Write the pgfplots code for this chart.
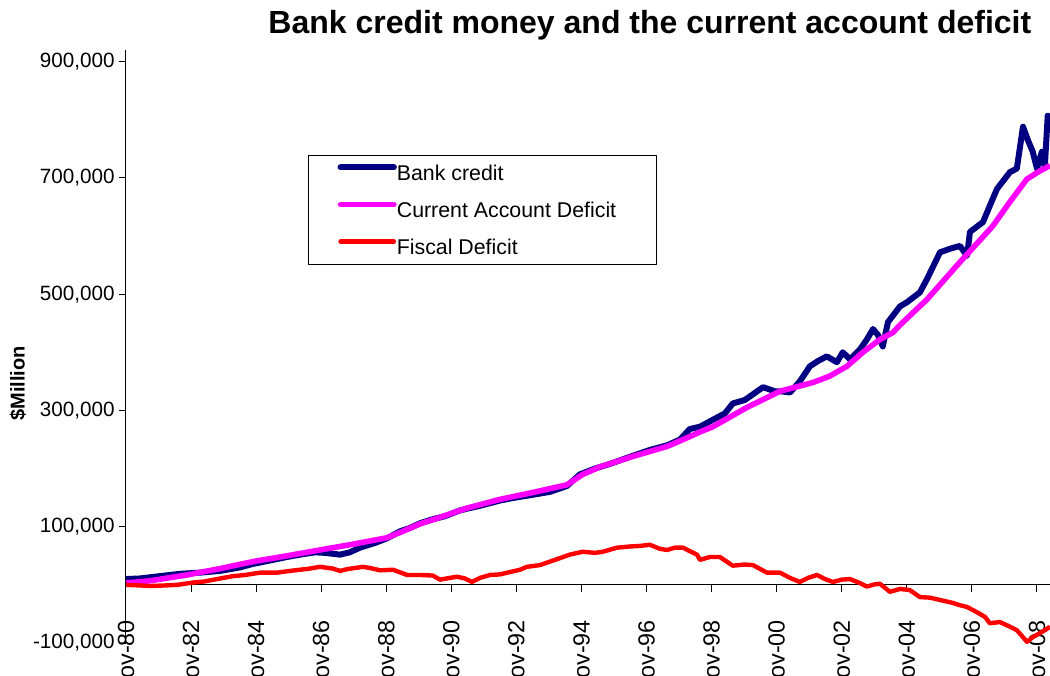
\documentclass[border=0pt]{standalone}
\usepackage{fontspec}
\setmainfont{Liberation Sans}
\usepackage{pgfplots}
\usepackage{pgfplotstable}
\pgfplotsset{compat=1.18}
\definecolor{bcblue}{RGB}{0,0,128}
\definecolor{cadpink}{RGB}{255,0,255}
\definecolor{fdred}{RGB}{255,0,0}

\pgfplotstableread{
t v
0 10000
0.43 11000
1.04 15000
1.66 19000
2.27 21000
2.89 24000
3.50 30000
3.90 36000
4.43 42000
4.95 48000
5.35 52000
5.81 56000
6.12 55000
6.58 52000
6.88 56000
7.19 64000
7.65 72000
8.02 80000
8.42 92000
8.73 98000
9.04 106000
9.43 113000
9.80 118000
10.26 128000
10.48 131000
10.88 136000
11.49 145000
11.95 150000
12.51 155000
13.03 160000
13.55 170000
13.95 190000
14.41 200000
14.87 208000
15.58 222000
16.10 232000
16.63 240000
17.03 250000
17.33 268000
17.64 272000
18.04 284000
18.41 295000
18.65 312000
19.02 318000
19.58 340000
19.94 333000
20.10 333000
20.41 331000
20.71 350000
21.02 376000
21.27 385000
21.54 393000
21.85 383000
22.03 400000
22.25 388000
22.56 405000
22.77 422000
22.96 440000
23.11 430000
23.26 410000
23.42 452000
23.79 479000
24.00 486000
24.40 503000
24.62 526000
25.02 572000
25.32 578000
25.63 583000
25.85 566000
25.94 607000
26.34 624000
26.55 652000
26.77 681000
27.17 710000
27.38 716000
27.57 788000
27.72 765000
27.87 745000
28.00 716000
28.15 745000
28.24 719000
28.33 807000
28.40 800000
}\bankcredit

\pgfplotstableread{
t v
0 3000
0.74 7000
1.87 17000
2.89 28000
3.90 40000
4.95 50000
5.96 60000
6.98 70000
8.02 81000
8.42 90000
9.04 105000
9.43 112000
10.48 132000
11.49 147000
12.51 159000
13.55 172000
14.04 190000
14.57 203000
15.58 221000
16.63 238000
17.33 255000
17.64 263000
18.04 272000
19.08 305000
20.10 333000
21.11 348000
21.63 359000
22.16 376000
22.65 400000
23.17 422000
23.57 434000
23.79 447000
24.62 491000
25.63 555000
26.64 617000
27.17 659000
27.69 698000
28.09 712000
28.40 721000
}\cad

\pgfplotstableread{
t v
0 0
0.43 -1000
0.74 -2000
1.20 -1000
1.57 0
2.06 4000
2.43 6000
2.80 10000
3.29 15000
3.66 17000
4.12 21000
4.64 21000
5.04 24000
5.35 26000
5.65 28000
5.96 31000
6.36 28000
6.58 24000
6.79 27000
7.28 31000
7.50 29000
7.81 25000
8.21 26000
8.64 17000
9.04 17000
9.43 16000
9.65 9000
9.96 12000
10.17 14000
10.42 11000
10.63 5000
10.88 12000
11.19 17000
11.49 18000
11.80 22000
12.11 26000
12.32 31000
12.72 34000
13.03 40000
13.34 46000
13.64 52000
14.04 57000
14.41 55000
14.66 57000
15.09 64000
15.49 66000
15.80 67000
16.10 69000
16.41 62000
16.63 60000
16.87 64000
17.12 64000
17.33 58000
17.55 52000
17.64 43000
17.95 48000
18.25 48000
18.65 33000
19.02 35000
19.27 34000
19.70 21000
20.10 21000
20.41 12000
20.71 5000
20.96 12000
21.24 17000
21.48 10000
21.73 5000
22.00 9000
22.25 10000
22.56 3000
22.77 -3000
23.02 1000
23.17 2000
23.48 -12000
23.79 -7000
24.09 -9000
24.40 -21000
24.71 -22000
25.02 -26000
25.41 -31000
25.63 -35000
25.85 -38000
26.15 -47000
26.40 -55000
26.55 -66000
26.86 -64000
27.17 -72000
27.38 -78000
27.54 -88000
27.69 -98000
27.87 -90000
28.09 -83000
28.24 -78000
28.40 -72000
}\fiscal

\begin{document}
\begin{tikzpicture}
\begin{axis}[
  name=ax, at={(0,0)}, anchor=south west,
  scale only axis, width=693pt, height=444.75pt,
  xmin=0, xmax=28.4, ymin=-100000, ymax=920000,
  axis y line*=left, axis x line*=middle,
  hide obscured x ticks=false, hide obscured y ticks=false,
  xtick={0,2,...,28},
  xticklabels={Nov-80,Nov-82,Nov-84,Nov-86,Nov-88,Nov-90,Nov-92,Nov-94,Nov-96,Nov-98,Nov-00,Nov-02,Nov-04,Nov-06,Nov-08},
  ytick={-100000,100000,300000,500000,700000,900000},
  yticklabels={{-100,000},{100,000},{300,000},{500,000},{700,000},{900,000}},
  scaled y ticks=false, scaled x ticks=false,
  tick align=outside, major tick length=5pt,
  tick style={black, line width=0.75pt},
  axis line style={black, line width=0.75pt},
  xticklabel style={rotate=90, anchor=east, font=\fontsize{17.5}{20}\selectfont, color=black},
  xticklabel shift=18pt,
  yticklabel style={font=\fontsize{15.5}{18}\selectfont, color=black},
  title={Bank credit money and the current account deficit},
  title style={at={(axis description cs:0.567,1.029)}, anchor=center, font=\fontsize{24}{28}\selectfont\bfseries},
  ylabel={\$Million},
  every axis y label/.style={at={(axis description cs:-0.117,0.438)}, rotate=90, anchor=center, font=\fontsize{15}{18}\selectfont\bfseries},
  legend cell align=left,
  legend style={at={(axis description cs:0.197,0.823)}, anchor=north west, draw=black, line width=0.75pt,
    inner xsep=21.75pt, inner ysep=5pt, row sep=11.75pt, column sep=0pt,
    font=\fontsize{16}{19}\selectfont,
    nodes={inner xsep=0pt, inner ysep=0pt, text height=13.5pt, text depth=2.5pt}},
  legend image code/.code={\draw[#1, line cap=round] (0pt,4pt) -- (40pt,4pt);},
  line join=round,
]
\addplot[bcblue, line width=4.5pt] table[x=t, y=v] {\bankcredit};
\addlegendentry{\makebox[173pt][l]{Bank credit}}
\addplot[cadpink, line width=4.2pt] table[x=t, y=v] {\cad};
\addlegendentry{\makebox[173pt][l]{Current Account Deficit}}
\addplot[fdred, line width=3.3pt] table[x=t, y=v] {\fiscal};
\addlegendentry{\makebox[173pt][l]{Fiscal Deficit}}
\end{axis}
\pgfresetboundingbox
\path[use as bounding box] (-94.5pt,-24pt) rectangle (693pt,482.25pt);
\end{tikzpicture}
\end{document}
